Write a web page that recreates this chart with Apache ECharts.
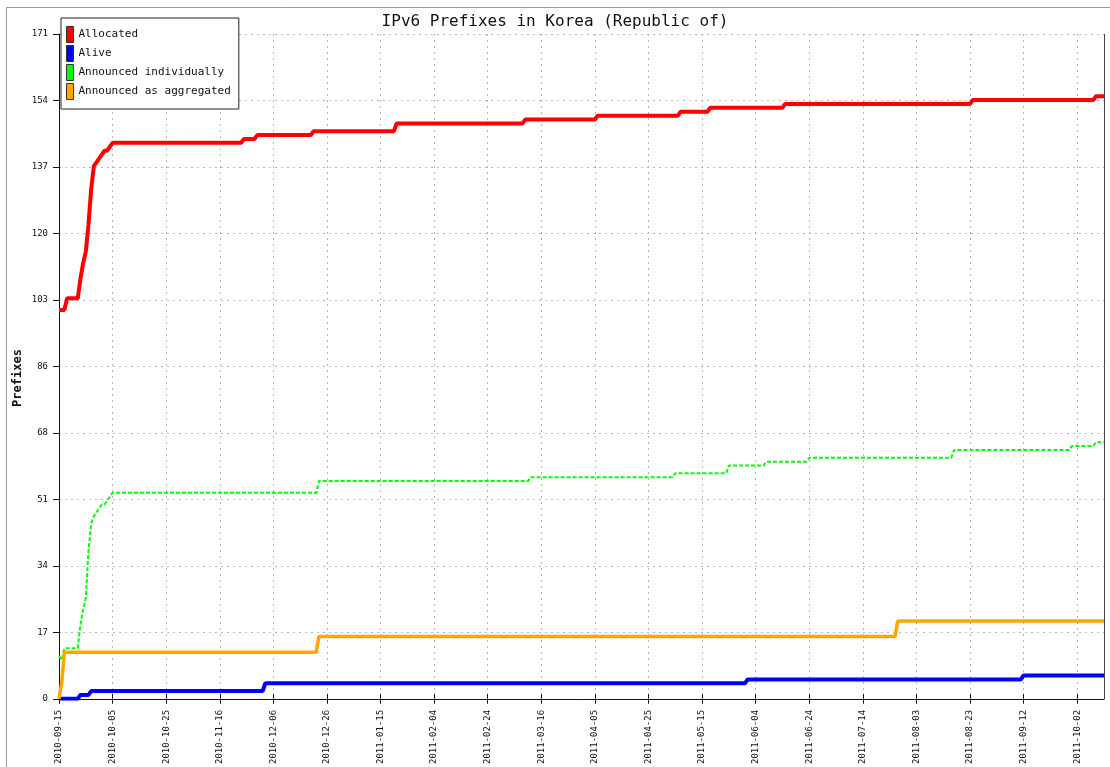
<!DOCTYPE html>
<html>
<head>
<meta charset="utf-8">
<script src="https://cdn.jsdelivr.net/npm/echarts@6/dist/echarts.min.js"></script>
<style>
html,body{margin:0;padding:0;background:#fff;}
#chart{width:1110px;height:767px;}
</style>
</head>
<body>
<div id="chart"></div>
<script>
// ---- data ----
var titleText = 'IPv6 Prefixes in Korea (Republic of)';
var yAxisName = 'Prefixes';
var startDate = '2010-09-15';
var dayCount = 391;
var missingDates = ['2010-11-01', '2010-11-02'];
var seriesNames = ['Allocated', 'Alive', 'Announced individually', 'Announced as aggregated'];
var seriesColors = ['#ff0000', '#0000ff', '#00ff00', '#ffa500'];
var yTickLabels = [0, 17, 34, 51, 68, 86, 103, 120, 137, 154, 171];

// [day index, value] at each change of value
var allocated = [[0,100],[2,100],[3,103],[7,103],[8,108],[9,112],[10,115],[11,122],[12,131],[13,137],[14,138],[15,139],[16,140],[17,141],[18,141],[19,142],[20,143],
  [68,143],[69,144],[73,144],[74,145],[94,145],[95,146],[125,146],[126,148],[173,148],[174,149],[200,149],[201,150],
  [231,150],[232,151],[242,151],[243,152],[270,152],[271,153],[340,153],[341,154],[386,154],[387,155],[390,155]];
var alive = [[0,0],[7,0],[8,1],[11,1],[12,2],[76,2],[77,4],[256,4],[257,5],[359,5],[360,6],[390,6]];
var announcedIndividually = [[0,11],[1,10],[2,13],[7,13],[8,19],[9,23],[10,26],[11,38],[12,45],[13,47],[14,48],[15,49],[16,50],[17,50],[18,51],[19,52],[20,53],
  [96,53],[97,56],[175,56],[176,57],[229,57],[230,58],[249,58],[250,60],[263,60],[264,61],[279,61],[280,62],
  [333,62],[334,64],[377,64],[378,65],[386,65],[387,66],[390,66]];
var announcedAggregated = [[0,0],[1,4],[2,12],[96,12],[97,16],[312,16],[313,20],[390,20]];

// ---- categories (daily dates) ----
var categories = [];
(function(){
  var d = new Date(startDate + 'T00:00:00Z');
  while (categories.length < dayCount) {
    var s = d.toISOString().slice(0,10);
    if (missingDates.indexOf(s) < 0) categories.push(s);
    d = new Date(d.getTime() + 86400000);
  }
})();

var mono = 'DejaVu Sans Mono';
var chart = echarts.init(document.getElementById('chart'));
var seriesData = [allocated, alive, announcedIndividually, announcedAggregated];
var widths = [4, 4, 2, 3.5];
var gridLine = {type: [2, 4], color: '#b4b4b4', width: 1};

var option = {
  animation: false,
  backgroundColor: '#fff',
  title: {
    text: titleText, left: 'center', top: 9,
    textStyle: {fontFamily: mono, fontSize: 16, fontWeight: 'normal', color: '#111'}
  },
  legend: {
    orient: 'vertical', left: 61, top: 18,
    data: seriesNames,
    icon: 'rect', itemWidth: 7, itemHeight: 16, itemGap: 2,
    padding: [8, 8, 9, 5],
    backgroundColor: '#fff', borderColor: '#222', borderWidth: 1,
    textStyle: {fontFamily: mono, fontSize: 11, color: '#111'},
    itemStyle: {borderColor: '#333', borderWidth: 1}
  },
  grid: {left: 59, right: 6, top: 34, bottom: 68, containLabel: false},
  xAxis: [{
    type: 'category', data: categories, boundaryGap: false,
    axisLine: {lineStyle: {color: '#111', width: 1}},
    axisTick: {interval: 19, length: 5, lineStyle: {color: '#111'}},
    axisLabel: {interval: 19, rotate: 90, margin: 11, fontFamily: mono, fontSize: 9, color: '#111'},
    splitLine: {show: true, interval: 19, lineStyle: gridLine}
  }, {
    type: 'category', data: categories, boundaryGap: false, position: 'bottom',
    axisLine: {show: false},
    axisTick: {interval: 19, inside: true, length: 5, lineStyle: {color: '#111'}},
    axisLabel: {show: false}, splitLine: {show: false}
  }],
  yAxis: {
    type: 'value', min: 0, max: 171, interval: 17.1,
    axisLine: {show: true, lineStyle: {color: '#111', width: 1}},
    axisTick: {show: true, length: 6, lineStyle: {color: '#111'}},
    axisLabel: {margin: 11, fontFamily: mono, fontSize: 9, color: '#111',
      formatter: function(v){ var r = Math.round(v); return yTickLabels.indexOf(r) >= 0 ? String(r) : ''; }},
    splitLine: {show: true, lineStyle: gridLine}
  },
  graphic: [
    {type: 'rect', silent: true, z: -1, shape: {x: 6.5, y: 7.5, width: 1200, height: 900}, style: {fill: null, stroke: '#999', lineWidth: 1}},
    {type: 'line', silent: true, shape: {x1: 1104.5, y1: 34, x2: 1104.5, y2: 699}, style: {stroke: '#444', lineWidth: 1}},
    {type: 'text', silent: true, x: 18, y: 378, rotation: Math.PI / 2,
      style: {text: yAxisName, font: 'bold 12px "DejaVu Sans Mono"', fill: '#111', textAlign: 'center', textVerticalAlign: 'middle'}}
  ],
  series: seriesNames.map(function(name, i){
    return {
      name: name, type: 'line', data: seriesData[i], showSymbol: false, symbol: 'none',
      color: seriesColors[i],
      lineStyle: {color: seriesColors[i], width: widths[i], type: i === 2 ? [4, 2] : 'solid'},
      itemStyle: {color: seriesColors[i]},
      z: 2 + i
    };
  })
};
chart.setOption(option);
</script>
</body>
</html>
